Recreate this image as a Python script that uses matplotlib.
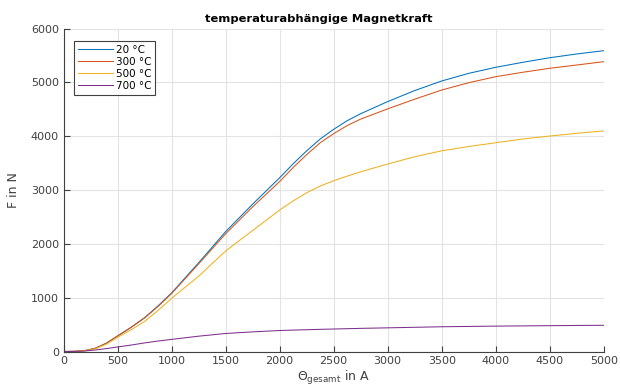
import numpy as np
import matplotlib
matplotlib.use("Agg")
import matplotlib.pyplot as plt

# Durchflutung in A
theta = [0, 100, 200, 300, 400, 500, 625, 750, 875, 1000, 1250, 1500, 1750,
         2000, 2125, 2250, 2375, 2500, 2625, 2750, 3000, 3250, 3500, 3750,
         4000, 4250, 4500, 4750, 5000]

# Magnetkraft in N je Temperatur
f_20 = [0, 3, 18, 65, 160, 290, 450, 630, 850, 1090, 1650, 2230, 2740,
        3230, 3490, 3730, 3950, 4130, 4290, 4420, 4645, 4850, 5028, 5170,
        5282, 5375, 5460, 5530, 5591]
f_300 = [0, 3, 18, 65, 160, 290, 450, 625, 840, 1080, 1630, 2190, 2690,
         3160, 3420, 3660, 3880, 4050, 4200, 4320, 4510, 4690, 4860, 4996,
         5108, 5190, 5264, 5325, 5387]
f_500 = [0, 2, 14, 55, 140, 265, 405, 560, 765, 990, 1400, 1870, 2250,
         2630, 2800, 2950, 3075, 3175, 3260, 3340, 3485, 3620, 3730, 3810,
         3880, 3950, 4005, 4055, 4100]
f_700 = [0, 2, 10, 30, 55, 85, 120, 160, 195, 225, 285, 335, 365,
         390, 398, 405, 412, 418, 424, 430, 440, 450, 460, 466,
         472, 476, 480, 484, 487]

labels = ["20 °C", "300 °C", "500 °C", "700 °C"]
colors = ["#0072BD", "#D95319", "#EDB120", "#7E2F8E"]

plt.rcParams['font.family'] = 'DejaVu Sans'
fig = plt.figure(figsize=(6.2, 3.92), dpi=100)
ax = fig.add_axes([0.1027, 0.1033, 0.871, 0.8235])

for f, lab, c in zip([f_20, f_300, f_500, f_700], labels, colors):
    ax.plot(theta, f, color=c, linewidth=0.75, label=lab)

ax.set_xlim(0, 5000)
ax.set_ylim(0, 6000)
ax.set_xticks(np.arange(0, 5001, 500))
ax.set_yticks(np.arange(0, 6001, 1000))
ax.grid(True, color="#e3e3e3", linewidth=0.8)
ax.set_axisbelow(True)
for s in ["top", "right"]:
    ax.spines[s].set_visible(False)
for s in ["left", "bottom"]:
    ax.spines[s].set_color("#404040")
    ax.spines[s].set_linewidth(0.8)
ax.tick_params(direction="in", length=4, width=0.8, color="#404040",
               labelsize=8, labelcolor="#404040")

ax.set_title("temperaturabhängige Magnetkraft", fontsize=8.25,
             fontweight="bold", x=0.473, pad=5)
ax.set_xlabel(r"$\Theta_{\mathrm{gesamt}}$ in A", fontsize=9, color="#404040", labelpad=2)
ax.set_ylabel("F in N", fontsize=9, color="#404040", labelpad=8)

leg = ax.legend(loc="upper left", bbox_to_anchor=(0.019, 0.962), borderaxespad=0,
                fontsize=7.5, fancybox=False, framealpha=1, edgecolor="#404040",
                handlelength=3.4, handletextpad=0.3, labelspacing=0.2,
                borderpad=0.35)
leg.get_frame().set_linewidth(0.8)

fig.savefig("out.png", dpi=100)
